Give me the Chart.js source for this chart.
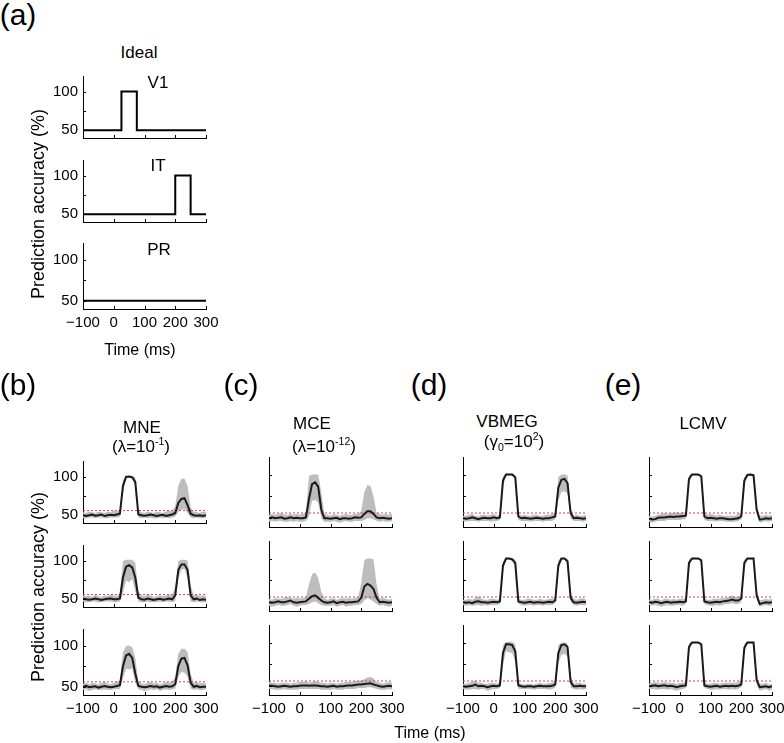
<!DOCTYPE html>
<html>
<head>
<meta charset="utf-8">
<script src="https://cdn.jsdelivr.net/npm/chart.js@4.4.1/dist/chart.umd.min.js"></script>
<style>
  body { margin: 0; background: #fff; }
  #fig { position: relative; width: 784px; height: 743px; overflow: hidden;
         font-family: "Liberation Sans", Arial, sans-serif; color: #000; }
  #fig canvas { position: absolute; }
  .lbl { position: absolute; transform: translate(-50%, -50%); white-space: nowrap; line-height: 1; }
  .lbl sup, .lbl sub { font-size: 0.62em; line-height: 0; }
  .letter { font-size: 30px; }
  .ttl { font-size: 17px; }
  .axl { font-size: 16px; }
  .ylab { font-size: 18px; transform: translate(-50%, -50%) rotate(-90deg); }
</style>
</head>
<body>
<div id="fig"></div>
<script>
// time axis (ms), shared by all estimated curves
const time = [-100, -90, -80, -70, -60, -50, -40, -30, -20, -10, 0, 10, 20, 30, 40, 50, 60, 70, 80, 90,
  100, 110, 120, 130, 140, 150, 160, 170, 180, 190, 200, 210, 220, 230, 240, 250, 260, 270, 280, 290, 300];

// (a) ideal responses
const idealV1X = [-100, 25, 25, 75, 75, 300];
const idealV1Y = [50, 50, 100, 100, 50, 50];
const idealITX = [-100, 200, 200, 250, 250, 300];
const idealITY = [50, 50, 100, 100, 50, 50];
const idealPRX = [-100, 300];
const idealPRY = [50, 50];

const chanceLevel = 56;
const xTicks = [-100, 0, 100, 200, 300];
const yTicks = [50, 75, 100];
const yLabelled = [50, 100];

// (b) MNE
const mneV1Mean = [50,49,50,51,49.5,50,51,49,50,50.5,50,51, 52,88,99.5,100,99,93,51, 50,49.5,50,51,50,49,50,50.5,49,50,51, 53,66,71,72,63,52, 50,49.5,50,49,50];
const mneV1Hi   = [54,53,55,54,53,55,54,53,55,54,56,55, 58,95,101,101,101,99,56, 54,53,55,54,53,55,54,53,55,56,55, 62,88,97,97,88,60, 55,54,53,55,54];
const mneV1Lo   = [46,46,47,47,46,47,47,46,46,47,47,47, 48,80,98,99,97,87,47, 46,47,46,47,46,46,47,46,47,46,47, 48,55,57,58,53,47, 46,47,46,46,47];
const mneITMean = [51,50,49.5,50,51,50,49,50,50.5,51,50,50, 51,78,92,94,91,78,52, 50,49.5,51,50,49,50,50.5,49.5,50,51,50, 55,88,95,95,88,55, 50,51,49,50,49.5];
const mneITHi   = [55,54,55,53,56,54,53,55,54,56,55,54, 58,99,101,101,101,97,60, 55,54,56,55,53,54,55,54,55,56,55, 66,99,101,101,100,68, 55,56,54,55,54];
const mneITLo   = [47,46,46,47,47,46,46,47,47,47,46,46, 47,58,74,72,76,60,47, 46,46,47,46,46,46,47,46,47,47,46, 48,76,88,89,78,47, 46,47,46,46,46];
const mnePRMean = [50,51,49.5,50,50.5,49,50,51,50,49.5,50,51, 52,75,88,90,85,66,51, 50,49.5,50,51,50,50.5,49,50,51,50,50.5, 53,75,84,85,76,55, 50,51,49.5,50,50];
const mnePRHi   = [54,55,53,55,54,53,55,56,54,53,55,56, 58,92,99,100,98,85,56, 54,53,55,56,54,55,53,54,56,55,56, 62,90,96,96,92,66, 55,56,54,55,54];
const mnePRLo   = [46,47,45,46,47,46,46,47,46,46,47,47, 47,60,72,71,72,55,47, 46,45,46,47,46,47,45,46,47,46,47, 48,62,68,67,62,48, 46,47,46,46,47];

// (c) MCE
const mceV1Mean = [50,51,50,50.5,51,49.5,50,51,50,50.5,50,50, 51,72,89,91,86,60,50, 50,49.5,50,50.5,49,50,50,49.5,50,51,50.5, 51,55,58,58,55,51, 50,50.5,50,49.5,50];
const mceV1Hi   = [54,55,54,55,56,54,54,55,54,55,54,55, 57,98,100,100,100,80,55, 54,53,55,54,53,54,55,54,54,55,55, 58,80,88,87,75,56, 55,54,55,54,55];
const mceV1Lo   = [46,47,46,47,47,46,46,47,46,47,46,46, 47,52,70,71,68,50,46, 46,46,47,46,45,46,47,46,46,47,47, 47,48,50,50,49,47, 46,47,46,46,47];
const mceITMean = [50,49.5,50,51,50,50,51,52,50,49.5,50,50.5, 51,54,57,58,55,52,50, 49.5,50,51,49,50,50.5,49.5,50,50,50.5,51, 55,68,71,69,65,55, 50,50.5,50,49.5,50];
const mceITHi   = [54,53,55,54,54,55,56,55,54,55,54,55, 56,70,82,84,78,62,55, 53,54,55,53,54,55,54,55,54,55,56, 72,98,100,100,99,70, 54,55,54,53,54];
const mceITLo   = [46,45,46,47,46,46,47,48,46,45,46,47, 47,48,50,51,49,47,46, 46,46,47,45,46,47,45,46,46,47,47, 48,52,55,53,51,48, 46,47,46,45,46];
const mcePRMean = [51,50.5,50,49.5,50,50.5,50,49.5,50,50,50.5,51, 51,50.5,51,51,50.5,50,50, 49.5,50,50.5,49.5,50,50,50.5,51,51,51.5,52, 52,52.5,53,53.5,52,51, 50,49.5,50,50.5,50];
const mcePRHi   = [55,54,54,53,54,54,54,53,54,54,55,55, 56,54,55,56,55,54,54, 53,54,54,53,54,54,55,55,55,56,56, 57,58,60,61,59,55, 54,53,54,55,54];
const mcePRLo   = [47,47,46,46,46,47,46,46,46,46,47,47, 47,47,47,47,47,46,46, 46,46,47,46,46,46,47,47,47,47,48, 48,48,49,49,48,47, 46,46,46,47,46];

// (d) VBMEG
const vbV1Mean = [50,49.5,50,51,50,49,50,50.5,50,50,51,50, 51,93,100,100,100,97,52, 50,50.5,50,49.5,50,50.5,50,49.5,50,50,51, 52,85,94,95,90,56, 50,50.5,50,49.5,50];
const vbV1Hi   = [53,53,54,55,53,52,54,54,53,54,55,53, 55,98,101,101,101,99,55, 53,54,53,53,54,54,53,53,54,54,55, 57,97,100,100,99,63, 53,54,53,53,54];
const vbV1Lo   = [47,46,47,47,47,46,47,47,47,46,47,47, 48,86,99,99,99,94,48, 47,47,47,46,47,47,47,46,47,47,47, 49,70,80,81,78,50, 47,47,47,46,47];
const vbITMean = [50,49.5,50,49,50.5,51,50,50,49.5,50,50.5,50, 51,92,100,100,99,95,51, 50,49.5,50,50.5,49.5,50,50,49.5,50,50.5,50, 52,92,100,100,97,55, 50,49.5,50,50.5,50];
const vbITHi   = [53,53,54,53,55,57,54,53,53,54,54,53, 54,97,101,101,101,99,54, 53,53,54,54,53,53,54,53,53,54,54, 56,98,101,101,100,60, 54,53,54,55,53];
const vbITLo   = [47,46,47,46,47,47,46,47,46,47,47,47, 48,86,99,99,97,90,48, 47,46,47,47,46,47,47,46,47,47,47, 49,86,99,99,93,50, 47,46,47,47,47];
const vbPRMean = [50,49.5,50,50.5,52,50,50.5,50,49,50,50.5,50, 51,88,98,98,97,90,51, 50,49.5,50,50,49.5,50,50.5,50,50,50,50.5, 52,88,97,98,95,55, 50,50,50.5,50,50];
const vbPRHi   = [53,53,54,55,57,54,54,53,53,54,54,53, 55,97,101,101,101,98,54, 53,52,53,53,52,53,54,53,53,54,54, 57,97,100,100,99,62, 53,54,54,53,53];
const vbPRLo   = [47,46,46,47,47,46,47,47,45,46,47,47, 48,75,90,89,88,78,47, 47,47,47,47,46,47,47,47,47,46,47, 48,76,86,87,84,49, 47,46,47,46,47];

// (e) LCMV
const lcV1Mean = [49.5,48.5,49,50.5,51,51,51.5,52,51.5,52,52,52.5, 53,95,100,100,100,98,52, 50,50.5,50,49.5,50,50,49.5,49,49,49.5,50, 52,93,99.5,100,99,60, 48.5,49,50,49.5,50];
const lcV1Hi   = [53,52,53,54,55,56,55,56,56,57,56,57, 57,99,101,101,101,100,56, 54,55,54,53,54,53,53,53,53,53,55, 56,97,101,101,101,65, 53,53,54,53,54];
const lcV1Lo   = [46,45,46,47,47,47,48,48,48,48,48,49, 49,90,99,99,99,95,48, 47,47,47,46,47,47,46,46,46,46,47, 49,88,98,99,97,55, 45,46,47,46,47];
const lcITMean = [50,49.5,50.5,50,49,50,50.5,49.5,50,50,50.5,50, 51,95,100,100,100,98,51, 50,49.5,50,50.5,50,51,51.5,52,53,52,52, 54,95,100,100,100,58, 48,49,50,49.5,50];
const lcITHi   = [53,53,54,54,52,54,54,53,54,53,54,54, 55,99,101,101,101,100,54, 53,53,54,54,54,55,55,56,58,56,56, 58,99,101,101,101,64, 52,53,54,53,54];
const lcITLo   = [47,46,47,46,45,46,47,46,46,47,47,46, 48,90,99,99,99,95,48, 47,46,46,47,46,47,48,48,49,48,48, 50,90,99,99,99,53, 45,46,47,46,46];
const lcPRMean = [50,50.5,51,50,50.5,51,50,50.5,50,49,50,50.5, 51,95,100,100,100,98,51, 50,49.5,50,50.5,49.5,50,50.5,50,50.5,50,50.5, 52,94,100,100,100,57, 49,49.5,50,49,50];
const lcPRHi   = [53,54,55,54,54,55,54,54,54,53,54,54, 55,99,101,101,101,100,54, 53,53,54,54,53,54,54,54,54,54,55, 57,99,101,101,101,63, 53,53,54,52,53];
const lcPRLo   = [47,47,47,46,47,47,46,47,46,45,46,47, 48,90,99,99,99,95,48, 47,46,46,47,46,47,47,46,47,46,47, 49,89,99,99,99,52, 45,46,47,45,46];

const fig = document.getElementById('fig');
const PW = 123, PH = 70; // plot area size
const PADL = 40, PADR = 20, PADT = 10, PADB = 10, XAXH = 24;

function pts(xs, ys) { return xs.map((x, i) => ({ x: x, y: ys[i] })); }

// Matlab-like inward tick marks
const inwardTicks = {
  id: 'inwardTicks',
  afterDraw(chart) {
    const { ctx, chartArea: a, scales } = chart;
    ctx.save();
    ctx.strokeStyle = '#000';
    ctx.lineWidth = 1;
    ctx.beginPath();
    xTicks.forEach(v => {
      const px = Math.round(scales.x.getPixelForValue(v)) + 0.5;
      ctx.moveTo(px, a.bottom); ctx.lineTo(px, a.bottom - 3);
    });
    yTicks.forEach(v => {
      const py = Math.round(scales.y.getPixelForValue(v)) + 0.5;
      ctx.moveTo(a.left, py); ctx.lineTo(a.left + 3, py);
    });
    ctx.stroke();
    ctx.restore();
  }
};

function subplot(left, top, datasets, showX, showY) {
  const cv = document.createElement('canvas');
  cv.width = PADL + PW + PADR;
  cv.height = PADT + PH + (showX ? XAXH : 0) + PADB;
  cv.style.left = (left - PADL) + 'px';
  cv.style.top = (top - PADT) + 'px';
  fig.appendChild(cv);
  new Chart(cv, {
    type: 'line',
    data: { datasets: datasets },
    plugins: [inwardTicks],
    options: {
      responsive: false,
      animation: false,
      devicePixelRatio: 1,
      layout: { padding: { left: 0, right: PADR, top: PADT, bottom: PADB } },
      plugins: { legend: { display: false }, tooltip: { enabled: false } },
      elements: { point: { radius: 0 }, line: { tension: 0 } },
      scales: {
        x: {
          type: 'linear', min: -100, max: 300,
          afterBuildTicks: s => { s.ticks = xTicks.map(v => ({ value: v })); },
          afterFit: s => { s.height = showX ? XAXH : 0; },
          grid: { drawOnChartArea: false, drawTicks: false },
          border: { display: true, color: '#000', width: 1 },
          ticks: {
            display: showX, padding: 5, color: '#000', maxRotation: 0, autoSkip: false,
            font: { family: '"Liberation Sans", Arial, sans-serif', size: 15 },
            callback: v => (v < 0 ? '\u2212' + Math.abs(v) : String(v))
          }
        },
        y: {
          type: 'linear', min: 40, max: 120,
          afterBuildTicks: s => { s.ticks = yTicks.map(v => ({ value: v })); },
          afterFit: s => { s.width = PADL; },
          grid: { drawOnChartArea: false, drawTicks: false },
          border: { display: true, color: '#000', width: 1 },
          ticks: {
            display: showY, padding: 5, color: '#000', autoSkip: false,
            font: { family: '"Liberation Sans", Arial, sans-serif', size: 15 },
            callback: v => (yLabelled.includes(v) ? String(v) : '')
          }
        }
      }
    }
  });
}

function idealSets(xs, ys) {
  return [{ data: pts(xs, ys), borderColor: '#000', borderWidth: 2, fill: false }];
}

function estSets(mean, hi, lo) {
  return [
    { data: pts(time, mean), borderColor: '#1a1a1a', borderWidth: 2, fill: false },
    { data: pts([-100, 300], [chanceLevel, chanceLevel]), borderColor: '#d2454a', borderWidth: 1,
      borderDash: [2, 2], fill: false },
    { data: pts(time, hi), borderWidth: 0, borderColor: 'rgba(0,0,0,0)', backgroundColor: '#bdbdbd', fill: '+1' },
    { data: pts(time, lo), borderWidth: 0, borderColor: 'rgba(0,0,0,0)', fill: false }
  ];
}

function label(html, cx, cy, cls) {
  const d = document.createElement('div');
  d.className = 'lbl ' + cls;
  d.innerHTML = html;
  d.style.left = cx + 'px';
  d.style.top = cy + 'px';
  fig.appendChild(d);
}

// panel (a)
const aTops = [72, 156, 239];
subplot(83, aTops[0], idealSets(idealV1X, idealV1Y), false, true);
subplot(83, aTops[1], idealSets(idealITX, idealITY), false, true);
subplot(83, aTops[2], idealSets(idealPRX, idealPRY), true, true);

// panels (b)-(e)
const rowTops = [457, 541, 625];
const cols = [
  { left: 83, showY: true, rows: [[mneV1Mean, mneV1Hi, mneV1Lo], [mneITMean, mneITHi, mneITLo], [mnePRMean, mnePRHi, mnePRLo]] },
  { left: 269, showY: false, rows: [[mceV1Mean, mceV1Hi, mceV1Lo], [mceITMean, mceITHi, mceITLo], [mcePRMean, mcePRHi, mcePRLo]] },
  { left: 463, showY: false, rows: [[vbV1Mean, vbV1Hi, vbV1Lo], [vbITMean, vbITHi, vbITLo], [vbPRMean, vbPRHi, vbPRLo]] },
  { left: 649, showY: false, rows: [[lcV1Mean, lcV1Hi, lcV1Lo], [lcITMean, lcITHi, lcITLo], [lcPRMean, lcPRHi, lcPRLo]] }
];
cols.forEach(c => {
  c.rows.forEach((r, i) => subplot(c.left, rowTops[i], estSets(r[0], r[1], r[2]), i === 2, c.showY));
});

// text
label('(a)', 18, 15, 'letter');
label('Ideal', 139, 52, 'ttl');
label('V1', 158, 82, 'ttl');
label('IT', 158, 165, 'ttl');
label('PR', 159, 249, 'ttl');
label('Prediction accuracy (%)', 38, 204, 'ylab');
label('Time (ms)', 140, 350, 'axl');

label('(b)', 18, 385, 'letter');
label('(c)', 241, 385, 'letter');
label('(d)', 429, 385, 'letter');
label('(e)', 623, 385, 'letter');
label('MNE', 142, 427, 'ttl');
label('(\u03bb=10<sup>-1</sup>)', 141, 446, 'ttl');
label('MCE', 312, 423, 'ttl');
label('(\u03bb=10<sup>-12</sup>)', 324, 446, 'ttl');
label('VBMEG', 507, 421, 'ttl');
label('(\u03b3<sub>0</sub>=10<sup>2</sup>)', 514, 441, 'ttl');
label('LCMV', 703, 423, 'ttl');
label('Prediction accuracy (%)', 38, 587, 'ylab');
label('Time (ms)', 430, 733, 'axl');
</script>
</body>
</html>
